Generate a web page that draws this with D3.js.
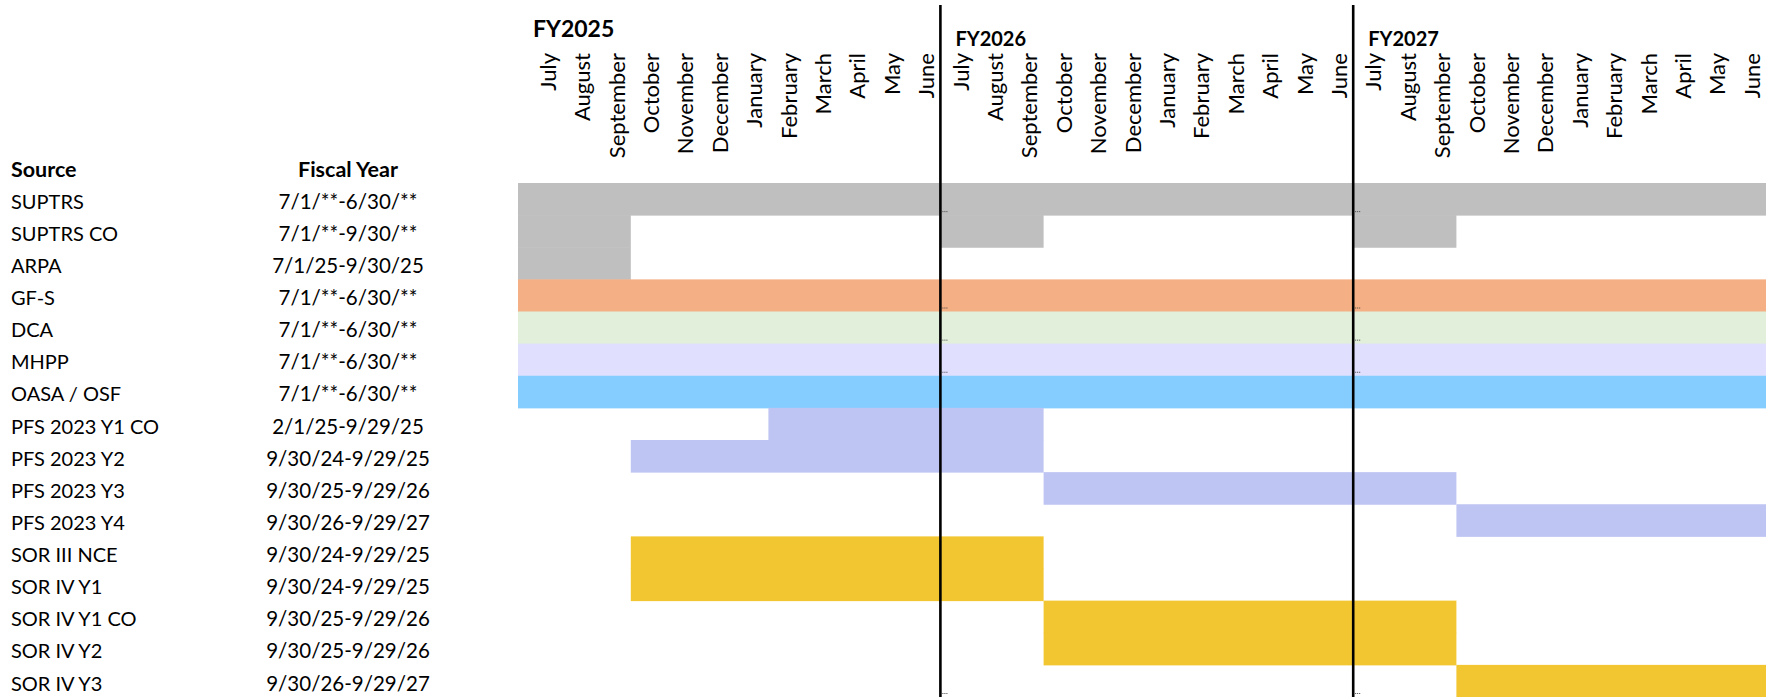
<!DOCTYPE html>
<html>
<head>
<meta charset="utf-8">
<script src="https://cdn.jsdelivr.net/npm/d3@7/dist/d3.min.js"></script>
<style>
  body { margin: 0; background: #fff; }
  svg { display: block; font-family: Lato, "Open Sans", sans-serif; }
</style>
</head>
<body>
<svg width="1774" height="697"></svg>
<script>
// rows of the table
var sources = ["SUPTRS", "SUPTRS CO", "ARPA", "GF-S", "DCA", "MHPP", "OASA / OSF",
    "PFS 2023 Y1 CO", "PFS 2023 Y2", "PFS 2023 Y3", "PFS 2023 Y4",
    "SOR III NCE", "SOR IV Y1", "SOR IV Y1 CO", "SOR IV Y2", "SOR IV Y3"];
var periods = ["7/1/**-6/30/**", "7/1/**-9/30/**", "7/1/25-9/30/25", "7/1/**-6/30/**",
    "7/1/**-6/30/**", "7/1/**-6/30/**", "7/1/**-6/30/**",
    "2/1/25-9/29/25", "9/30/24-9/29/25", "9/30/25-9/29/26", "9/30/26-9/29/27",
    "9/30/24-9/29/25", "9/30/24-9/29/25", "9/30/25-9/29/26", "9/30/25-9/29/26", "9/30/26-9/29/27"];

var months = ["July", "August", "September", "October", "November", "December",
    "January", "February", "March", "April", "May", "June"];
var fiscalYears = ["FY2025", "FY2026", "FY2027"];

// bars: source, first month index (0 = July FY2025), end month index, funding group
var bars = [
    ["SUPTRS", 0, 36, "state"],
    ["SUPTRS CO", 0, 3, "state"],
    ["SUPTRS CO", 12, 15, "state"],
    ["SUPTRS CO", 24, 27, "state"],
    ["ARPA", 0, 3, "state"],
    ["GF-S", 0, 36, "gf"],
    ["DCA", 0, 36, "dca"],
    ["MHPP", 0, 36, "mhpp"],
    ["OASA / OSF", 0, 36, "oasa"],
    ["PFS 2023 Y1 CO", 7, 15, "pfs"],
    ["PFS 2023 Y2", 3, 15, "pfs"],
    ["PFS 2023 Y3", 15, 27, "pfs"],
    ["PFS 2023 Y4", 27, 36, "pfs"],
    ["SOR III NCE", 3, 15, "sor"],
    ["SOR IV Y1", 3, 15, "sor"],
    ["SOR IV Y1 CO", 15, 27, "sor"],
    ["SOR IV Y2", 15, 27, "sor"],
    ["SOR IV Y3", 27, 36, "sor"]
];

// little truncated-cell marks next to the year dividers
var markRows = ["SUPTRS", "GF-S", "DCA", "MHPP", "SOR IV Y3"];

var svg = d3.select("svg");

var color = d3.scaleOrdinal()
    .domain(["state", "gf", "dca", "mhpp", "oasa", "pfs", "sor"])
    .range(["#bfbfbf", "#f4b084", "#e2efda", "#e0e0fe", "#86cdff", "#bfc5f2", "#f2c630"]);

// first July column of the sheet is a bit wider than the rest
var x = d3.scaleLinear().domain([0, 1, 36]).range([518, 562, 1766]);
var y = d3.scaleBand().domain(sources).range([183, 697]).padding(0);

var allMonths = [];
fiscalYears.forEach(function(fy, i) {
    months.forEach(function(m, j) { allMonths.push({name: m, index: i * 12 + j}); });
});

// bars
svg.append("g")
    .selectAll("rect")
    .data(bars)
    .enter().append("rect")
    .attr("x", function(d) { return x(d[1]); })
    .attr("y", function(d) { return y(d[0]); })
    .attr("width", function(d) { return x(d[2]) - x(d[1]); })
    .attr("height", y.bandwidth() + 0.5)
    .attr("fill", function(d) { return color(d[3]); });

// month headers
svg.append("g")
    .selectAll("text")
    .data(allMonths)
    .enter().append("text")
    .attr("transform", function(d) { return "translate(" + (x(d.index + 1) - 14) + ",53) rotate(-90)"; })
    .attr("text-anchor", "end")
    .attr("dy", "0.35em")
    .attr("font-size", "22px")
    .attr("fill", "#000")
    .text(function(d) { return d.name; });

// fiscal year headers
svg.append("g")
    .selectAll("text")
    .data(fiscalYears)
    .enter().append("text")
    .attr("x", function(d, i) { return x(i * 12) + 15; })
    .attr("y", function(d, i) { return i == 0 ? 37 : 46; })
    .attr("font-size", function(d, i) { return i == 0 ? "23px" : "20px"; })
    .attr("font-weight", "bold")
    .attr("fill", "#000")
    .text(function(d) { return d; });

// year dividers
var dividers = [12, 24];
svg.append("g")
    .selectAll("line")
    .data(dividers)
    .enter().append("line")
    .attr("x1", function(d) { return x(d); })
    .attr("x2", function(d) { return x(d); })
    .attr("y1", 5)
    .attr("y2", 697)
    .attr("stroke", "#000")
    .attr("stroke-width", 2.6);

var marks = [];
markRows.forEach(function(r) {
    dividers.forEach(function(d) { marks.push({row: r, m: d}); });
});
svg.append("g")
    .selectAll("line")
    .data(marks)
    .enter().append("line")
    .attr("x1", function(d) { return x(d.m) + 2; })
    .attr("x2", function(d) { return x(d.m) + 8; })
    .attr("y1", function(d) { return y(d.row) + y.bandwidth() - 3.5; })
    .attr("y2", function(d) { return y(d.row) + y.bandwidth() - 3.5; })
    .attr("stroke", "#444")
    .attr("stroke-width", 1)
    .attr("stroke-dasharray", "1,1");

// table headers
svg.append("text")
    .attr("x", 11).attr("y", 177)
    .attr("font-size", "21.5px").attr("font-weight", "bold")
    .text("Source");
svg.append("text")
    .attr("x", 348).attr("y", 177)
    .attr("text-anchor", "middle")
    .attr("font-size", "21.5px").attr("font-weight", "bold")
    .text("Fiscal Year");

// table rows
var rows = svg.append("g")
    .selectAll("g")
    .data(sources)
    .enter().append("g")
    .attr("transform", function(d) { return "translate(0," + (y(d) + y.bandwidth() - 6.5) + ")"; });

rows.append("text")
    .attr("x", 11)
    .attr("font-size", "20px")
    .text(function(d) { return d; });

rows.append("text")
    .attr("x", 348)
    .attr("text-anchor", "middle")
    .attr("font-size", "20.5px")
    .text(function(d, i) { return periods[i]; });
</script>
</body>
</html>
